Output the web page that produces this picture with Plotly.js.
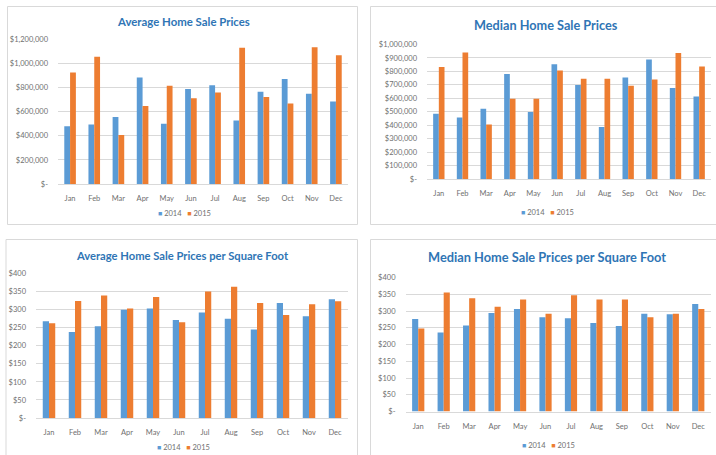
<!DOCTYPE html>
<html>
<head>
<meta charset="utf-8">
<script src="https://cdn.plot.ly/plotly-3.0.1.min.js"></script>
<style>html,body{margin:0;padding:0;background:#fff;}#chart{width:716px;height:455px;}</style>
</head>
<body>
<div id="chart"></div>
<script>
// ---- Data ----
const months = ["Jan","Feb","Mar","Apr","May","Jun","Jul","Aug","Sep","Oct","Nov","Dec"];
const years = ["2014","2015"];

const avgPrice2014 = [480000, 495000, 556000, 885000, 500000, 788000, 821000, 528000, 766000, 871000, 749000, 686000];
const avgPrice2015 = [925000, 1056000, 406000, 647000, 816000, 713000, 760000, 1131000, 722000, 669000, 1136000, 1070000];

const medPrice2014 = [485000, 458000, 522000, 780000, 498000, 854000, 698000, 386000, 755000, 889000, 676000, 614000];
const medPrice2015 = [832000, 941000, 406000, 597000, 597000, 807000, 745000, 745000, 693000, 740000, 936000, 837000];

const avgSqft2014 = [268, 238, 254, 300, 303, 271, 292, 275, 245, 318, 282, 329];
const avgSqft2015 = [262, 324, 339, 303, 335, 265, 350, 363, 318, 285, 315, 323];

const medSqft2014 = [276, 236, 257, 294, 306, 281, 278, 264, 255, 292, 290, 321];
const medSqft2015 = [248, 355, 338, 313, 334, 292, 347, 334, 334, 281, 292, 306];

const titles = ["Average Home Sale Prices", "Median Home Sale Prices",
                "Average Home Sale Prices per Square Foot", "Median Home Sale Prices per Square Foot"];

const priceTicks1 = [0, 200000, 400000, 600000, 800000, 1000000, 1200000];
const priceTickText1 = ["$-", "$200,000", "$400,000", "$600,000", "$800,000", "$1,000,000", "$1,200,000"];
const priceTicks2 = [0,100000,200000,300000,400000,500000,600000,700000,800000,900000,1000000];
const priceTickText2 = ["$-","$100,000","$200,000","$300,000","$400,000","$500,000","$600,000","$700,000","$800,000","$900,000","$1,000,000"];
const sqftTicks = [0,50,100,150,200,250,300,350,400];
const sqftTickText = ["$-","$50","$100","$150","$200","$250","$300","$350","$400"];

// ---- Styling ----
const W = 716, H = 455;
const px = v => v / W;
const py = v => 1 - v / H;
const COLORS = ["#5B9BD5", "#ED7D31"];
const FONT = "Lato, 'Open Sans', sans-serif";
const TICKCOL = "#707070";
const GRID = "#d9d9d9";

const series = [
  [avgPrice2014, avgPrice2015],
  [medPrice2014, medPrice2015],
  [avgSqft2014, avgSqft2015],
  [medSqft2014, medSqft2015]
];
const suffix = ["", "2", "3", "4"];

const traces = [];
series.forEach((pair, i) => {
  pair.forEach((vals, j) => {
    traces.push({
      type: "bar",
      x: months,
      y: vals,
      name: years[j],
      marker: {color: COLORS[j]},
      xaxis: "x" + suffix[i],
      yaxis: "y" + suffix[i],
      showlegend: false,
      hoverinfo: "x+y+name"
    });
  });
});

// plot areas in pixels [left, top, right, bottom]
const areas = [
  [58, 39.5, 348, 184],
  [427, 44.5, 711, 179],
  [36, 273.5, 348, 418],
  [405.5, 277.5, 711, 411.5]
];
const yRanges = [[0, 1200000], [0, 1000000], [0, 400], [0, 400]];
const yTicks = [[priceTicks1, priceTickText1], [priceTicks2, priceTickText2], [sqftTicks, sqftTickText], [sqftTicks, sqftTickText]];

const layout = {
  width: W, height: H,
  margin: {l: 0, r: 0, t: 0, b: 0, pad: 0},
  paper_bgcolor: "#ffffff",
  plot_bgcolor: "#ffffff",
  barmode: "group",
  bargap: 0.52,
  bargroupgap: 0,
  showlegend: false,
  font: {family: FONT, color: TICKCOL, size: 7.5},
  annotations: [],
  shapes: []
};

areas.forEach((a, i) => {
  const s = suffix[i];
  layout["xaxis" + s] = {
    domain: [px(a[0]), px(a[2])],
    anchor: "y" + s,
    showgrid: false,
    showline: true,
    linecolor: GRID,
    linewidth: 1,
    ticks: "",
    tickfont: {family: FONT, size: 7.5, color: TICKCOL},
    ticklabelstandoff: 7,
    fixedrange: true
  };
  layout["yaxis" + s] = {
    domain: [py(a[3]), py(a[1])],
    anchor: "x" + s,
    range: yRanges[i],
    tickvals: yTicks[i][0],
    ticktext: yTicks[i][1],
    showgrid: true,
    gridcolor: GRID,
    gridwidth: 1,
    zeroline: false,
    showline: false,
    ticks: "",
    tickfont: {family: FONT, size: 7.5, color: TICKCOL},
    ticklabelstandoff: 9,
    fixedrange: true
  };
});

// titles
const titlePos = [[183, 21.5], [546, 24.5], [182, 255], [546.5, 257]];
const titleSize = [11.4, 12.7, 11.2, 12.8];
titlePos.forEach((p, i) => {
  layout.annotations.push({
    text: "<b>" + titles[i] + "</b>",
    x: px(p[0]), y: py(p[1]), xref: "paper", yref: "paper",
    xanchor: "center", yanchor: "middle", showarrow: false,
    font: {family: FONT, size: titleSize[i], color: "#2F75B5"}
  });
});

// legends (compact, Excel style)
const NB = "\u00A0";
const legendText = years.map((yr, j) =>
  '<span style="color:' + COLORS[j] + ';font-size:7px">\u25A0</span>' + NB + yr
).join(NB + NB + NB);
const legPos = [[184, 213], [547.5, 212], [183, 447.5], [548, 445]];
legPos.forEach((p, i) => {
  layout.annotations.push({
    text: legendText,
    x: px(p[0]), y: py(p[1]), xref: "paper", yref: "paper",
    xanchor: "center", yanchor: "middle", showarrow: false,
    font: {family: FONT, size: 7.5, color: TICKCOL}
  });
});

// panel borders
const boxes = [
  [7.5, 6.5, 357.5, 224.5],
  [370.5, 6.5, 730, 224.5],
  [6, 239.5, 357.5, 470],
  [370.5, 239.5, 730, 470]
];
boxes.forEach(b => {
  layout.shapes.push({
    type: "rect", xref: "paper", yref: "paper",
    x0: px(b[0]), x1: px(b[2]), y0: py(b[3]), y1: py(b[1]),
    line: {color: "#d9d9d9", width: 1}, fillcolor: "rgba(0,0,0,0)", layer: "below"
  });
});

Plotly.newPlot("chart", traces, layout, {displayModeBar: false, staticPlot: true});
</script>
</body>
</html>
